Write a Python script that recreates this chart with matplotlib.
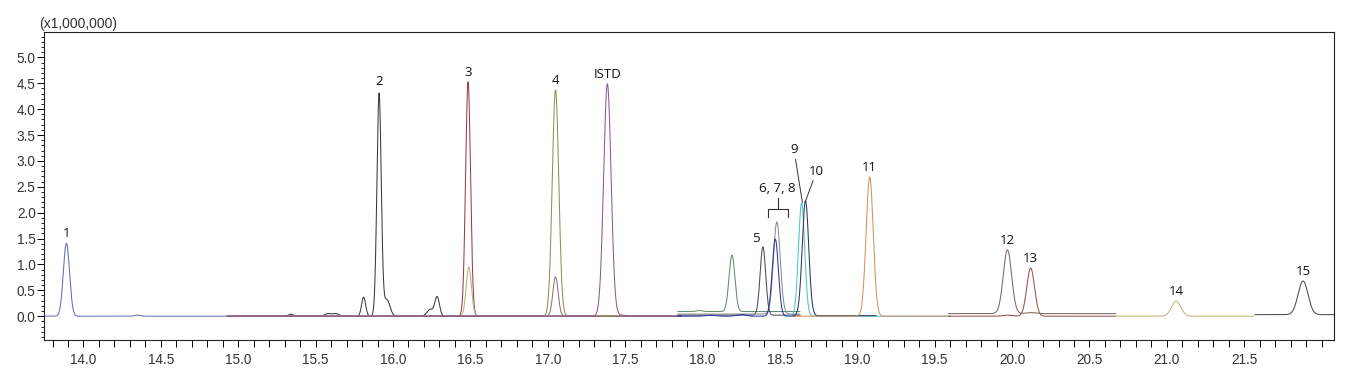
import numpy as np
import matplotlib
matplotlib.use("Agg")
import matplotlib.pyplot as plt
from matplotlib.ticker import MultipleLocator

# ---- data (retention time in min, intensity in x1,000,000) ----
# each trace: time window, baseline, colour and its peaks (centre, height, sigma)
trace_names = ["t1", "t2", "t3", "t3b", "t4", "t4b", "istd", "tg", "t5", "t678g", "t678b",
               "t9", "t10", "t11", "t12", "t13", "t14", "t15"]
trace_start = [13.745, 14.93, 14.93, 14.93, 14.93, 14.93, 14.93, 17.84, 17.84, 17.84, 17.84,
               18.55, 18.58, 18.58, 19.59, 19.59, 20.67, 21.57]
trace_end = [14.93, 17.86, 17.86, 17.86, 17.86, 17.86, 17.86, 18.63, 18.63, 18.63, 18.60,
             19.60, 19.12, 19.60, 20.67, 20.67, 21.56, 22.08]
trace_base = [0.0, 0.0, 0.0, 0.0, 0.0, 0.0, 0.0, 0.09, 0.02, 0.04, 0.0,
              0.0, 0.01, 0.0, 0.05, 0.0, 0.0, 0.03]
trace_colors = ["#6a6ab8", "#3a3a3a", "#9a3c48", "#b8b07a", "#8f8f52", "#8a7474", "#9550a8",
                "#5f8f6f", "#4a4a5a", "#8a8a92", "#2a36a8", "#48c4d4", "#2e3550", "#d6925a",
                "#7a6a60", "#9a5050", "#c4b474", "#4a4a4a"]
trace_peaks = [
    [(13.89, 1.41, 0.020), (14.35, 0.02, 0.02)],
    [(15.91, 4.30, 0.014), (15.96, 0.32, 0.020), (15.81, 0.37, 0.013), (16.24, 0.13, 0.020),
     (16.285, 0.37, 0.015), (15.34, 0.04, 0.015), (15.58, 0.05, 0.02), (15.63, 0.05, 0.02)],
    [(16.485, 4.53, 0.016)],
    [(16.49, 0.95, 0.017)],
    [(17.05, 4.37, 0.021)],
    [(17.05, 0.76, 0.017)],
    [(17.385, 4.49, 0.024), (17.47, 0.02, 0.03)],
    [(18.19, 1.09, 0.019), (17.98, 0.02, 0.02)],
    [(18.39, 1.32, 0.018)],
    [(18.48, 1.78, 0.022)],
    [(18.47, 1.49, 0.020), (18.05, 0.02, 0.03), (18.25, 0.03, 0.03)],
    [(18.64, 2.19, 0.020)],
    [(18.665, 2.22, 0.021)],
    [(19.08, 2.69, 0.023)],
    [(19.97, 1.23, 0.027), (20.12, 0.02, 0.03)],
    [(20.12, 0.93, 0.025), (19.97, 0.02, 0.03)],
    [(21.06, 0.29, 0.030)],
    [(21.88, 0.65, 0.032)],
]

# peak labels: (text, rt, height)
label_text = ["1", "2", "3", "4", "ISTD", "11", "12", "13", "14", "15"]
label_rt = [13.89, 15.91, 16.485, 17.05, 17.385, 19.08, 19.97, 20.12, 21.06, 21.88]
label_h = [1.41, 4.35, 4.53, 4.37, 4.49, 2.69, 1.28, 0.93, 0.29, 0.68]

x_ticks = [14.0, 14.5, 15.0, 15.5, 16.0, 16.5, 17.0, 17.5, 18.0, 18.5, 19.0, 19.5, 20.0, 20.5, 21.0, 21.5]
y_ticks = [0.0, 0.5, 1.0, 1.5, 2.0, 2.5, 3.0, 3.5, 4.0, 4.5, 5.0]

# ---- figure ----
fig = plt.figure(figsize=(13.59, 3.69), dpi=100)
ax = fig.add_axes([44 / 1359, 1 - 340 / 369, 1290 / 1359, 308 / 369])

for s, e, b, c, pk in zip(trace_start, trace_end, trace_base, trace_colors, trace_peaks):
    t = np.arange(s, e, 0.0015)
    y = np.full_like(t, b)
    for (mu, h, sg) in pk:
        y = y + h * np.exp(-0.5 * ((t - mu) / sg) ** 2)
    ax.plot(t, y, color=c, lw=0.75)

lab_font = dict(family=["Open Sans", "DejaVu Sans"], fontsize=9.5, color="#111111")
for txt, rt, h in zip(label_text, label_rt, label_h):
    ax.annotate(txt, (rt, h), xytext=(0, 2), textcoords="offset points",
                ha="center", va="bottom", **lab_font)

# label 5
ax.annotate("5", (18.39, 1.32), xytext=(-2, 2), textcoords="offset points",
            ha="right", va="bottom", **lab_font)
# labels 9 and 10 with leader lines
ax.annotate("9", (18.645, 2.20), xytext=(-6, 33), textcoords="offset points",
            ha="center", va="bottom", arrowprops=dict(arrowstyle="-", color="#333333", lw=0.7,
                                                      shrinkA=0, shrinkB=0), **lab_font)
ax.annotate("10", (18.665, 2.22), xytext=(8, 17), textcoords="offset points",
            ha="center", va="bottom", arrowprops=dict(arrowstyle="-", color="#333333", lw=0.7,
                                                      shrinkA=0, shrinkB=0), **lab_font)
# bracket for 6, 7, 8
bx0, bx1, bxm = 18.42, 18.55, 18.485
by_top, by_bot, by_stem = 2.08, 1.92, 2.29
ax.plot([bx0, bx0, bx1, bx1], [by_bot, by_top, by_top, by_bot], color="#333333", lw=0.8)
ax.plot([bxm, bxm], [by_top, by_stem], color="#333333", lw=0.8)
ax.text(bxm, by_stem + 0.05, "6, 7, 8", ha="center", va="bottom", **lab_font)

ax.set_xlim(13.745, 22.08)
ax.set_ylim(-0.46, 5.49)
ax.set_xticks(x_ticks)
ax.set_yticks(y_ticks)
ax.set_xticklabels([f"{v:.1f}" for v in x_ticks])
ax.set_yticklabels([f"{v:.1f}" for v in y_ticks])
ax.xaxis.set_minor_locator(MultipleLocator(0.1))
ax.yaxis.set_minor_locator(MultipleLocator(0.1))
tick_font = ["Liberation Sans", "DejaVu Sans"]
for lab in ax.get_xticklabels() + ax.get_yticklabels():
    lab.set_family(tick_font)
    lab.set_fontsize(9.8)
    lab.set_color("#333333")
ax.tick_params(axis="x", which="major", length=5, width=0.7, pad=4, direction="out")
ax.tick_params(axis="x", which="minor", length=5, width=0.7, direction="out")
ax.tick_params(axis="y", which="major", length=5, width=0.7, pad=1, direction="out")
ax.tick_params(axis="y", which="minor", length=2.5, width=0.6, direction="out")
for sp in ax.spines.values():
    sp.set_linewidth(0.8)
    sp.set_color("#222222")

fig.text(39 / 1359, 1 - 24 / 369, "(x1,000,000)", ha="left", va="center",
         family=tick_font, fontsize=10, color="#333333")

fig.savefig("out.png", dpi=100)
